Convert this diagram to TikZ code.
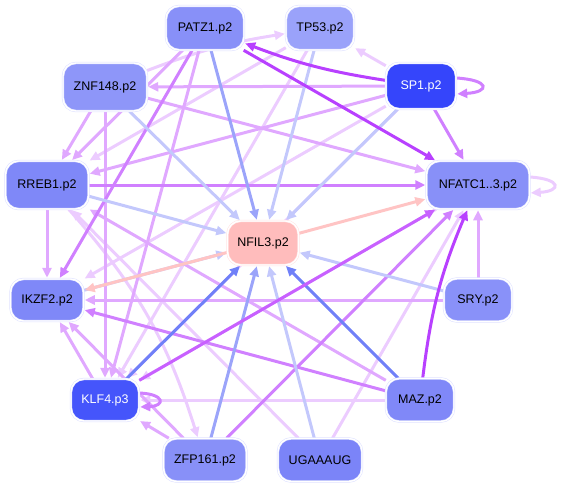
\documentclass[tikz,border=0pt]{standalone}
\usepackage{fontspec}
\setmainfont{Liberation Sans}
\usetikzlibrary{arrows.meta,backgrounds}
\definecolor{cA}{HTML}{7080F8}
\definecolor{cB}{HTML}{9BA4FA}
\definecolor{cC}{HTML}{C3C8FC}
\definecolor{sal}{HTML}{FFC4C4}
\definecolor{sp}{HTML}{B840FF}
\definecolor{kp}{HTML}{C860FF}
\definecolor{mp}{HTML}{D080FF}
\definecolor{lp}{HTML}{E0A8FF}
\definecolor{vp}{HTML}{ECCCFF}
\definecolor{nedge}{HTML}{DCDFFF}
\tikzset{
  nd/.style={rectangle, rounded corners=13pt, draw=nedge, line width=0.5pt,
    double=white, double distance=1.4pt, minimum height=44pt, inner sep=2pt,
    font=\fontsize{12.5}{14}\selectfont},
  e/.style={line width=3pt, -{Triangle[length=10pt,width=9pt]}, shorten >=1pt},
}
\begin{document}
\begin{tikzpicture}[x=1pt,y=-1pt]
\useasboundingbox (0,0) rectangle (561,489);
\node[nd, fill={rgb,255:red,136;green,144;blue,248}, minimum width=78pt] (PATZ1) at (205,28) {PATZ1.p2};
\node[nd, fill={rgb,255:red,154;green,162;blue,250}, minimum width=68pt] (TP53) at (320,28) {TP53.p2};
\node[nd, fill={rgb,255:red,53;green,69;blue,251}, minimum width=70pt, minimum height=46pt, text=white] (SP1) at (421,86) {SP1.p2};
\node[nd, fill={rgb,255:red,142;green,150;blue,249}, minimum width=84pt, minimum height=48pt] (ZNF148) at (105,87) {ZNF148.p2};
\node[nd, fill={rgb,255:red,136;green,144;blue,248}, minimum width=103pt, minimum height=48pt] (NFATC1) at (478,185) {NFATC1..3.p2};
\node[nd, fill={rgb,255:red,127;green,136;blue,248}, minimum width=83pt, minimum height=48pt] (RREB1) at (47,185) {RREB1.p2};
\node[nd, fill={rgb,255:red,255;green,188;blue,188}, draw={rgb,255:red,255;green,225;blue,225}, minimum width=71pt] (NFIL3) at (263,243) {NFIL3.p2};
\node[nd, fill={rgb,255:red,127;green,136;blue,248}, minimum width=73pt, minimum height=42pt] (IKZF2) at (47,300) {IKZF2.p2};
\node[nd, fill={rgb,255:red,137;green,145;blue,249}, minimum width=68pt, minimum height=43pt] (SRY) at (478,300) {SRY.p2};
\node[nd, fill={rgb,255:red,69;green,85;blue,251}, minimum width=68pt, minimum height=42pt, text=white] (KLF4) at (105,400) {KLF4.p3};
\node[nd, fill={rgb,255:red,128;green,136;blue,248}, minimum width=68pt, minimum height=43pt] (MAZ) at (420,400) {MAZ.p2};
\node[nd, fill={rgb,255:red,136;green,144;blue,248}, minimum width=83pt, minimum height=43pt] (ZFP161) at (205,460) {ZFP161.p2};
\node[nd, fill={rgb,255:red,123;green,132;blue,248}, minimum width=84pt, minimum height=43pt] (UGA) at (320,460) {UGAAAUG};
\begin{scope}[on background layer]
\draw[e,vp] (SP1) -- (TP53);
\draw[e,vp] (ZNF148) to[bend left=6] (TP53);
\draw[e,vp] (TP53) -- (KLF4);
\draw[e,vp] (TP53) -- (RREB1);
\draw[e,vp] (SP1) -- (IKZF2);
\draw[e,vp] (SP1) -- (KLF4);
\draw[e,vp] (MAZ) -- (KLF4);
\draw[e,vp] (UGA) -- (NFATC1);
\draw[e,vp] (UGA) -- (RREB1);
\draw[e,vp] (NFATC1) -- (KLF4);
\draw[e,vp] (RREB1) to[bend left=12] (ZFP161);
\draw[e,vp] ([yshift=8pt]NFATC1.east) .. controls +(32,2) and +(32,-2) .. ([yshift=-8pt]NFATC1.east);
\draw[e,lp] (ZNF148) -- (NFATC1);
\draw[e,lp] (SP1) -- (ZNF148);
\draw[e,lp] (SP1) -- (RREB1);
\draw[e,lp] (ZNF148) -- (RREB1);
\draw[e,lp] (ZNF148) -- (KLF4);
\draw[e,lp] (RREB1) -- (IKZF2);
\draw[e,lp] (KLF4) -- (IKZF2);
\draw[e,lp] (SRY) -- (IKZF2);
\draw[e,lp] (SRY) -- (NFATC1);
\draw[e,lp] (ZFP161) -- (KLF4);
\draw[e,lp] (ZFP161) -- (IKZF2);
\draw[e,lp] (PATZ1) -- (RREB1);
\draw[e,lp] (PATZ1) -- (KLF4);
\draw[e,lp] (MAZ) -- (RREB1);
\draw[e,mp] (PATZ1) -- (IKZF2);
\draw[e,mp] (SP1) -- (NFATC1);
\draw[e,mp] (RREB1) -- (NFATC1);
\draw[e,mp] (ZFP161) -- (NFATC1);
\draw[e,mp] (MAZ) -- (IKZF2);
\draw[e,mp] ([yshift=8pt]SP1.east) .. controls +(34,2) and +(34,-2) .. ([yshift=-8pt]SP1.east);
\draw[e,mp] ([yshift=7pt]KLF4.east) .. controls +(26,1) and +(26,-1) .. ([yshift=-7pt]KLF4.east);
\draw[e,cC] (TP53) -- (NFIL3);
\draw[e,cC] (SP1) -- (NFIL3);
\draw[e,cC] (RREB1) -- (NFIL3);
\draw[e,cC] (ZNF148) -- (NFIL3);
\draw[e,cC] (SRY) -- (NFIL3);
\draw[e,cC] (UGA) -- (NFIL3);
\draw[e,cC] (IKZF2) -- (NFIL3);
\draw[e,cB] (PATZ1) -- (NFIL3);
\draw[e,cB] (ZFP161) -- (NFIL3);
\draw[e,cA] (KLF4) -- (NFIL3);
\draw[e,cA] (MAZ) -- (NFIL3);
\draw[e,sal] (NFIL3) -- (NFATC1);
\draw[e,sal] (NFIL3) -- (IKZF2);
\draw[e,kp] (KLF4) -- (NFATC1);
\draw[e,sp] (PATZ1) -- (NFATC1);
\draw[e,sp] (SP1) to[bend left=6] (PATZ1);
\draw[e,sp] (MAZ) to[bend left=8] (NFATC1);
\end{scope}
\end{tikzpicture}
\end{document}
